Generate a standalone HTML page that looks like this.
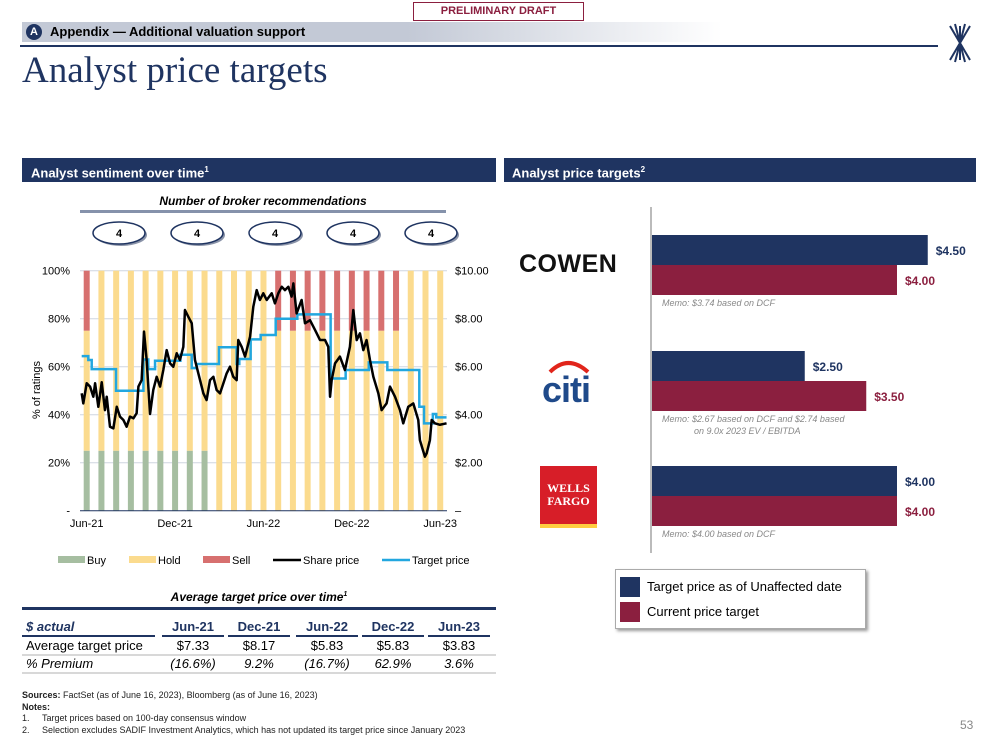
<!DOCTYPE html>
<html><head><meta charset="utf-8">
<style>
body{margin:0;width:999px;height:750px;position:relative;background:#fff;font-family:"Liberation Sans",sans-serif;overflow:hidden}
.a{position:absolute;white-space:nowrap}
</style></head><body>
<div class="a" style="left:413px;top:2px;width:169px;height:17px;border:1.5px solid #8b1f3f;color:#8b1f3f;font-size:11px;font-weight:bold;text-align:center;line-height:17px">PRELIMINARY DRAFT</div>
<div class="a" style="left:22px;top:22px;width:700px;height:20px;background:linear-gradient(to right,#c3c9d6 0%,#c3c9d6 55%,#fff 100%)"></div>
<div class="a" style="left:26px;top:24px;width:16px;height:16px;border-radius:50%;background:#1f3461;color:#fff;font-size:11px;font-weight:bold;text-align:center;line-height:16px">A</div>
<div class="a" style="left:50px;top:24px;font-size:13px;font-weight:bold;color:#000">Appendix — Additional valuation support</div>
<div class="a" style="left:20px;top:45px;width:918px;height:2px;background:#1f3461"></div>
<svg class="a" style="left:943px;top:20px" width="34" height="46" viewBox="0 0 34 46"><g stroke="#1f3461" stroke-width="2" fill="none"><path d="M17 6 L17 40 M7 6 L27 40 M27 6 L7 40 M12 4 L22 42 M22 4 L12 42"/></g></svg>
<div class="a" style="left:22px;top:49px;font-family:'Liberation Serif',serif;font-size:37px;color:#1f3461">Analyst price targets</div>

<div class="a" style="left:22px;top:158px;width:474px;height:24px;background:#1f3461;color:#fff;font-size:13px;font-weight:bold;line-height:24px;padding-left:9px;box-sizing:border-box">Analyst sentiment over time<sup style="font-size:8px">1</sup></div>
<div class="a" style="left:504px;top:158px;width:472px;height:24px;background:#1f3461;color:#fff;font-size:13px;font-weight:bold;line-height:24px;padding-left:8px;box-sizing:border-box">Analyst price targets<sup style="font-size:8px">2</sup></div>

<div class="a" style="left:80px;top:194px;width:366px;text-align:center;font-size:12px;font-weight:bold;font-style:italic">Number of broker recommendations</div>
<div class="a" style="left:80px;top:210px;width:366px;height:3px;background:#8592ab"></div>

<svg class="a" id="lc" style="left:0;top:215px" width="500" height="370"></svg>

<div class="a" style="left:22px;top:590px;width:474px;text-align:center;font-size:12px;font-weight:bold;font-style:italic">Average target price over time<sup style="font-size:7px">1</sup></div>
<div class="a" style="left:22px;top:607px;width:474px;height:3px;background:#1f3461"></div>
<div id="tbl"></div>

<div class="a" style="left:22px;top:690px;font-size:9px;line-height:11.5px;color:#222">
<b>Sources:</b> FactSet (as of June 16, 2023), Bloomberg (as of June 16, 2023)<br><b>Notes:</b><br>1.&nbsp;&nbsp;&nbsp;&nbsp;&nbsp;Target prices based on 100-day consensus window<br>2.&nbsp;&nbsp;&nbsp;&nbsp;&nbsp;Selection excludes SADIF Investment Analytics, which has not updated its target price since January 2023</div>
<div class="a" style="left:960px;top:718px;font-size:12px;color:#888">53</div>

<div class="a" style="left:519px;top:250px;font-size:25px;font-weight:bold;letter-spacing:0.5px;color:#111">COWEN</div>
<svg class="a" style="left:530px;top:352px" width="76" height="54"><path d="M20 20 Q38 2 58 20" stroke="#e1251b" stroke-width="4" fill="none"/><text x="36" y="50" text-anchor="middle" font-family="Liberation Sans, sans-serif" font-size="36" font-weight="bold" letter-spacing="-1" fill="#1f4a8a">citi</text></svg>
<div class="a" style="left:540px;top:466px;width:57px;height:62px;background:#d71e28;border-bottom:4px solid #ffcd41;color:#fff;font-family:'Liberation Serif',serif;font-weight:bold;font-size:12px;text-align:center;line-height:13px;padding-top:16px;box-sizing:border-box">WELLS<br>FARGO</div>

<svg class="a" id="rc" style="left:640px;top:200px" width="340" height="360"></svg>

<div class="a" style="left:615px;top:569px;width:249px;height:58px;border:1px solid #aaa;box-shadow:2px 2px 3px #999;background:#fff"></div>
<div class="a" style="left:620px;top:577px;width:20px;height:20px;background:#1f3461"></div>
<div class="a" style="left:647px;top:579px;font-size:13px">Target price as of Unaffected date</div>
<div class="a" style="left:620px;top:602px;width:20px;height:20px;background:#8b1f3f"></div>
<div class="a" style="left:647px;top:604px;font-size:13px">Current price target</div>

<script>
// ---- left chart data ----
const recCounts = [4,4,4,4,4];
const buyPct  = [25,25,25,25,25,25,25,25,25,0,0,0,0,0,0,0,0,0,0,0,0,0,0,0,0];
const holdPct = [50,75,75,75,75,75,75,75,75,100,100,100,100,75,75,75,75,75,75,75,75,75,100,100,100];
const sellPct = [25,0,0,0,0,0,0,0,0,0,0,0,0,25,25,25,25,25,25,25,25,25,0,0,0];
const pctTicks = [0,20,40,60,80,100];
const pctTickLabels = ["-","20%","40%","60%","80%","100%"];
const priceTicks = [0,2,4,6,8,10];
const priceTickLabels = ["–","$2.00","$4.00","$6.00","$8.00","$10.00"];
const xTickMonths = [0,6,12,18,24];
const xTickLabels = ["Jun-21","Dec-21","Jun-22","Dec-22","Jun-23"];
const shareMonths = [-0.34,-0.23,0,0.23,0.45,0.57,0.79,1.02,1.24,1.36,1.58,1.81,2.04,2.26,2.49,2.71,2.94,3.17,3.39,3.51,3.73,3.89,4.07,4.30,4.52,4.75,4.98,5.20,5.43,5.66,5.88,6.11,6.33,6.56,6.67,6.90,7.13,7.35,7.58,7.92,8.14,8.37,8.60,8.82,9.05,9.28,9.50,9.73,9.95,10.18,10.29,10.52,10.75,11.09,11.31,11.54,11.76,11.99,12.22,12.56,12.78,13.01,13.24,13.46,13.69,13.91,14.03,14.25,14.59,14.82,15.16,15.50,15.84,16.18,16.40,16.52,16.63,16.86,17.19,17.53,17.87,18.10,18.33,18.55,18.78,19.00,19.23,19.46,19.80,20.02,20.36,20.59,20.93,21.27,21.49,21.83,22.17,22.51,22.62,22.96,23.08,23.30,23.42,23.64,23.98,24.43];
const sharePrices = [4.89,4.47,5.31,5.17,4.75,5.31,4.33,5.35,4.19,4.75,3.50,3.43,4.33,3.92,3.78,3.50,3.92,3.85,4.06,5.17,5.44,7.46,6.28,4.03,5.03,5.58,5.17,5.86,6.69,6.14,6.00,6.56,6.28,6.83,8.36,8.08,7.81,6.28,5.72,4.89,4.61,5.44,5.58,5.03,4.89,5.31,5.72,6.00,5.58,5.44,7.11,6.83,6.42,7.25,8.50,9.19,8.78,9.06,8.78,9.06,8.64,9.06,9.33,9.19,9.33,8.92,9.47,8.22,8.78,7.81,7.94,7.53,7.11,7.11,6.83,4.75,5.44,6.14,6.42,5.86,6.83,8.36,7.11,7.39,6.69,7.11,6.28,5.58,4.89,4.19,4.47,5.17,4.75,4.19,3.64,4.33,4.47,3.78,2.94,2.25,2.39,2.94,3.78,3.64,3.58,3.64];
const targetMonths = [-0.34,0.11,0.34,1.99,3.85,4.18,4.64,6.36,7.13,7.47,8.98,10.18,10.36,11.13,11.81,12.83,14.30,16.56,17.58,19.15,20.41,22.58,22.90,23.50,23.73];
const targetPrices = [6.44,6.28,5.90,5.00,6.30,5.90,6.25,6.50,5.94,6.11,6.81,6.11,6.32,7.14,7.32,8.00,8.18,5.51,5.86,6.18,5.86,4.33,3.64,4.03,3.89];
const targetEnd = 24.43;

const NS="http://www.w3.org/2000/svg";
function mk(p,tag,at){const e=document.createElementNS(NS,tag);for(const k in at)e.setAttribute(k,at[k]);p.appendChild(e);return e;}
const lc=document.getElementById('lc');
const OY=215;
const xM=m=>86.7+14.73*m;
const yPct=v=>510.7-OY-2.4*v;
const yPr=v=>510.7-OY-24*v;

const ovalX=[119,197,275,353,431];
recCounts.forEach((c,i)=>{
  const g=mk(lc,'g',{});
  
  
  mk(g,'ellipse',{cx:ovalX[i]+2,cy:20,rx:26,ry:11,fill:'#8a93a8'});
  mk(g,'ellipse',{cx:ovalX[i],cy:18,rx:26,ry:11,fill:'#fff',stroke:'#1f3461','stroke-width':1.5});
  const t=mk(g,'text',{x:ovalX[i],y:22,'text-anchor':'middle','font-size':11,'font-weight':'bold'});t.textContent=c;
});
pctTicks.forEach((v,i)=>{
  if(v>0){const l=mk(lc,'line',{x1:80,x2:447,y1:yPct(v),y2:yPct(v),stroke:'#cfd6e0','stroke-width':1});
  }
  const t=mk(lc,'text',{x:70,y:yPct(v)+4,'text-anchor':'end','font-size':11});t.textContent=pctTickLabels[i];
  
});
priceTicks.forEach((v,i)=>{
  const t=mk(lc,'text',{x:455,y:yPr(v)+4,'font-size':11});t.textContent=priceTickLabels[i];
  
});
const yt=mk(lc,'text',{x:0,y:0,'font-size':11,'text-anchor':'middle',transform:`translate(40,${390-OY}) rotate(-90)`});yt.textContent='% of ratings';

holdPct.forEach((h,i)=>{
  const cx=xM(i),w=6;
  const segs=[[buyPct[i],'#a6bea1','bar-buy'],[h,'#fbdb8e','bar-hold'],[sellPct[i],'#d7706f','bar-sell']];
  let acc=0;
  segs.forEach(s=>{
    if(s[0]>0){const r=mk(lc,'rect',{x:cx-w/2,y:yPct(acc+s[0]),width:w,height:yPct(acc)-yPct(acc+s[0]),fill:s[1]});
    }
    acc+=s[0];
  });
});
const bl=mk(lc,'line',{x1:80,x2:447,y1:yPct(0),y2:yPct(0),stroke:'#1f3461','stroke-width':1});

let d='';
targetMonths.forEach((m,i)=>{
  const nx=i<targetMonths.length-1?targetMonths[i+1]:targetEnd;
  d+=(i===0?'M':'L')+xM(m)+' '+yPr(targetPrices[i])+' L'+xM(nx)+' '+yPr(targetPrices[i])+' ';
});
const tl=mk(lc,'path',{d:d,fill:'none',stroke:'#22a7df','stroke-width':2.5});

const sp=mk(lc,'polyline',{points:shareMonths.map((m,i)=>xM(m)+','+yPr(sharePrices[i])).join(' '),fill:'none',stroke:'#000','stroke-width':2.5,'stroke-linejoin':'round'});

xTickMonths.forEach((m,i)=>{
  const t=mk(lc,'text',{x:xM(m),y:527-OY,'text-anchor':'middle','font-size':11});t.textContent=xTickLabels[i];
  
});
const leg=[['rect',58,'#a6bea1','Buy'],['rect',129,'#fbdb8e','Hold'],['rect',203,'#d7706f','Sell'],['line',273,'#000','Share price'],['line',382,'#22a7df','Target price']];
leg.forEach(L=>{
  const g=mk(lc,'g',{});
  
  if(L[0]==='rect')mk(g,'rect',{x:L[1],y:556-OY,width:27,height:7,fill:L[2]});
  else mk(g,'line',{x1:L[1],x2:L[1]+28,y1:560-OY,y2:560-OY,stroke:L[2],'stroke-width':2.5});
  const t=mk(g,'text',{x:L[1]+(L[0]==='rect'?29:30),y:564-OY,'font-size':11});t.textContent=L[3];
});

// ---- table ----
const tblCols=["Jun-21","Dec-21","Jun-22","Dec-22","Jun-23"];
const tblAvg=["$7.33","$8.17","$5.83","$5.83","$3.83"];
const tblPrem=["(16.6%)","9.2%","(16.7%)","62.9%","3.6%"];
const colC=[193,259,327,393,459];
const tb=document.getElementById('tbl');
function div(st,txt,name){const e=document.createElement('div');e.className='a';e.style.cssText=st;e.textContent=txt;


tb.appendChild(e);return e;}
div('left:26px;top:619px;font-size:13px;font-weight:bold;font-style:italic;color:#1f3461','$ actual','table-header-label');
div('left:22px;top:635px;width:133px;height:2px;background:#1f3461','','header-underline');
div('left:26px;top:638px;font-size:13px','Average target price','row-label-avg');
div('left:26px;top:656px;font-size:13px;font-style:italic','% Premium','row-label-premium');
div('left:22px;top:654px;width:474px;height:2px;background:#d8d8d8','','row-rule');
div('left:22px;top:672px;width:474px;height:2px;background:#d8d8d8','','row-rule');
tblCols.forEach((c,i)=>{
  div(`left:${colC[i]-32}px;top:619px;width:64px;text-align:center;font-size:13px;font-weight:bold;color:#1f3461`,c,'table-col-header');
  div(`left:${colC[i]-31}px;top:635px;width:62px;height:2px;background:#1f3461`,'','header-underline');
  div(`left:${colC[i]-32}px;top:638px;width:64px;text-align:center;font-size:13px`,tblAvg[i],'avg-target-cell');
  div(`left:${colC[i]-32}px;top:656px;width:64px;text-align:center;font-size:13px;font-style:italic`,tblPrem[i],'premium-cell');
});

// ---- right chart ----
const brokers=["Cowen","Citi","Wells Fargo"];
const unaffectedTargets=[4.50,2.50,4.00];
const currentTargets=[4.00,3.50,4.00];
const memos=[["Memo: $3.74 based on DCF"],["Memo: $2.67 based on DCF and $2.74 based","on 9.0x 2023 EV / EBITDA"],["Memo: $4.00 based on DCF"]];
const rc=document.getElementById('rc');
const RY=200;
const xV=v=>651-640+61.5*v;
const groupTop=[235,351,466];
const ax=mk(rc,'line',{x1:xV(0),x2:xV(0),y1:207-RY,y2:553-RY,stroke:'#bbb','stroke-width':2});

brokers.forEach((b,i)=>{
  const y0=groupTop[i]-RY;
  const r1=mk(rc,'rect',{x:xV(0)+1,y:y0,width:xV(unaffectedTargets[i])-xV(0)-1,height:30,fill:'#1f3461'});
  
  const r2=mk(rc,'rect',{x:xV(0)+1,y:y0+30,width:xV(currentTargets[i])-xV(0)-1,height:30,fill:'#8b1f3f'});
  
  const t1=mk(rc,'text',{x:xV(unaffectedTargets[i])+8,y:y0+20,'font-size':12,'font-weight':'bold',fill:'#1f3461'});t1.textContent='$'+unaffectedTargets[i].toFixed(2);
  
  const t2=mk(rc,'text',{x:xV(currentTargets[i])+8,y:y0+50,'font-size':12,'font-weight':'bold',fill:'#8b1f3f'});t2.textContent='$'+currentTargets[i].toFixed(2);
  
  memos[i].forEach((m,j)=>{
    const t=mk(rc,'text',{x:xV(0)+11+(j?32:0),y:y0+71+j*12,'font-size':9,'font-style':'italic',fill:'#888'});t.textContent=m;
    
  });
});
</script>
</body></html>
